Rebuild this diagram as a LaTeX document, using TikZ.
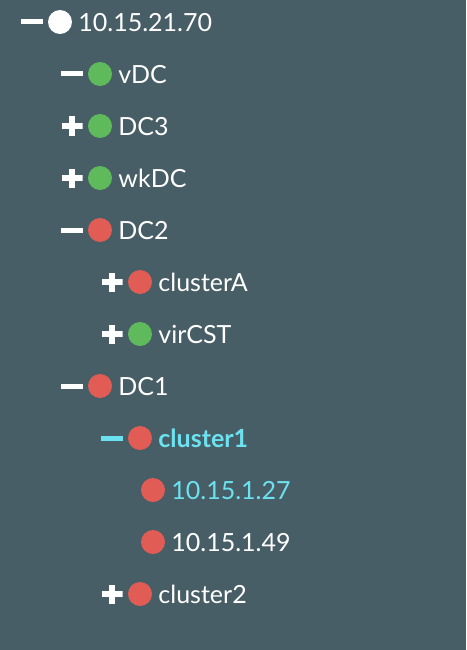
\documentclass[tikz,border=0pt]{standalone}
\usepackage{fontspec}
\setmainfont{Lato}
\usepackage{tikz}
\usetikzlibrary{positioning}
\definecolor{panelbg}{RGB}{72,94,102}
\definecolor{okgreen}{RGB}{94,186,90}
\definecolor{errred}{RGB}{224,92,84}
\definecolor{selcyan}{RGB}{108,226,240}

\begin{document}
\begin{tikzpicture}[
        x=1pt, y=1pt,
        node distance=52pt and 5pt,
        dot/.style={circle, minimum size=24pt, inner sep=0pt},
        root/.style={dot, fill=white},
        up/.style={dot, fill=okgreen},
        down/.style={dot, fill=errred},
        lbl/.style={inner sep=0pt, text height=19pt, text depth=0pt, font=\fontsize{25}{30}\selectfont, text=white},
        minus/.style={rectangle, fill=white, minimum width=22pt, minimum height=5pt, inner sep=0pt},
        plus/.style={minimum width=21pt, minimum height=19pt, inner sep=0pt, path picture={
            \fill[white] ([yshift=-2.8pt]path picture bounding box.west) rectangle ([yshift=2.8pt]path picture bounding box.east);
            \fill[white] ([xshift=-2.8pt]path picture bounding box.south) rectangle ([xshift=2.8pt]path picture bounding box.north);}}
    ]
    \fill[panelbg] (0,0) rectangle (466,-650);
    \useasboundingbox (0,0) rectangle (466,-650);

    % Host
    \node[root] (d0) at (60,-22) {};
    \node[minus, left=5pt of d0] (t0) {};
    \node[lbl, right=6pt of d0] (l0) {10.15.21.70};

    % Datacenters
    \node[up] (d1) [on grid, below right=52pt and 40pt of d0] {};
    \node[minus, left=of d1] (t1) {};
    \node[lbl, right=6pt of d1] (l1) {vDC};

    \node[up] (d2) [on grid, below=of d1] {};
    \node[plus, left=of d2] (t2) {};
    \node[lbl, right=6pt of d2] (l2) {DC3};

    \node[up] (d3) [on grid, below=of d2] {};
    \node[plus, left=of d3] (t3) {};
    \node[lbl, right=6pt of d3] (l3) {wkDC};

    \node[down] (d4) [on grid, below=of d3] {};
    \node[minus, left=of d4] (t4) {};
    \node[lbl, right=6pt of d4] (l4) {DC2};

    % Clusters of DC2
    \node[down] (d5) [on grid, below right=52pt and 40pt of d4] {};
    \node[plus, left=of d5] (t5) {};
    \node[lbl, right=6pt of d5] (l5) {clusterA};

    \node[up] (d6) [on grid, below=of d5] {};
    \node[plus, left=of d6] (t6) {};
    \node[lbl, right=6pt of d6] (l6) {virCST};

    \node[down] (d7) [on grid, below left=52pt and 40pt of d6] {};
    \node[minus, left=of d7] (t7) {};
    \node[lbl, right=6pt of d7] (l7) {DC1};

    % Clusters of DC1
    \node[down] (d8) [on grid, below right=52pt and 40pt of d7] {};
    \node[minus, fill=selcyan, left=of d8] (t8) {};
    \node[lbl, right=6pt of d8, text=selcyan, font=\fontsize{25}{30}\selectfont\bfseries] (l8) {cluster1};

    \node[down] (d9) [on grid, below right=52pt and 13pt of d8] {};
    \node[lbl, right=6pt of d9, text=selcyan] (l9) {10.15.1.27};

    \node[down] (d10) [on grid, below=of d9] {};
    \node[lbl, right=6pt of d10] (l10) {10.15.1.49};

    \node[down] (d11) [on grid, below left=52pt and 13pt of d10] {};
    \node[plus, left=of d11] (t11) {};
    \node[lbl, right=6pt of d11] (l11) {cluster2};

    \end{tikzpicture}
\end{document}
